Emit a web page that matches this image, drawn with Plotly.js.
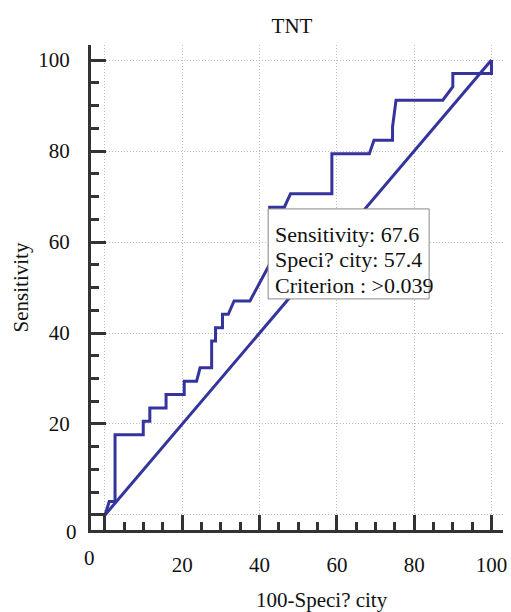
<!DOCTYPE html>
<html>
<head>
<meta charset="utf-8">
<script src="https://cdn.plot.ly/plotly-3.0.1.min.js"></script>
<style>html,body{margin:0;padding:0;background:#fff;}#chart{width:511px;height:612px;}</style>
</head>
<body>
<div id="chart"></div>
<script>
// 100-Specificity (x) and Sensitivity (y) of the ROC curve
var fpr = [0, 1.1, 2.6, 2.6, 9.9, 9.9, 11.6, 11.6, 15.8, 15.8, 20.5, 20.5, 23.7, 24.6, 27.6, 27.6, 28.6, 28.6, 30.4, 30.4, 31.9, 33.4, 37.5, 42.6, 42.6, 46.4, 48.0, 58.7, 58.7, 68.4, 69.6, 74.4, 74.4, 75.3, 87.4, 90.0, 90.0, 100, 100];
var sens = [0, 2.94, 2.94, 17.65, 17.65, 20.59, 20.59, 23.53, 23.53, 26.47, 26.47, 29.41, 29.41, 32.35, 32.35, 38.24, 38.24, 41.18, 41.18, 44.12, 44.12, 47.06, 47.06, 55.1, 67.65, 67.65, 70.59, 70.59, 79.41, 79.41, 82.35, 82.35, 85.29, 91.18, 91.18, 94.12, 97.06, 97.06, 100];
var diagX = [0, 100];
var diagY = [0, 100];
var critSpecComplement = 42.6;
var critSens = 67.6;
var infoLines = ["Sensitivity: 67.6", "Speci? city: 57.4", "Criterion : >0.039"];
var tickVals = [0, 20, 40, 60, 80, 100];
var tickText = ["", "20", "40", "60", "80", "100"];

var FONT = "Liberation Serif, Times New Roman, serif";
var LINE = "#34349c";
var AX = "#333333";

var traces = [
  {x: diagX, y: diagY, mode: "lines", line: {color: LINE, width: 3}, hoverinfo: "skip"},
  {x: fpr, y: sens, mode: "lines", line: {color: LINE, width: 3}, hoverinfo: "skip"}
];

function axis(range, standoff) {
  return {
    range: range, autorange: false,
    showline: true, linecolor: AX, linewidth: 3, mirror: false,
    ticks: "inside", ticklen: 15, tickwidth: 3, tickcolor: AX,
    tickvals: tickVals, ticktext: tickText,
    tickfont: {family: FONT, size: 21, color: "#111"},
    ticklabelstandoff: standoff,
    showgrid: true, gridcolor: "#bdbdbd", gridwidth: 1, griddash: "1px,2px",
    zeroline: false,
    minor: {dtick: 5, tick0: 0, ticks: "inside", ticklen: 8, tickwidth: 3, tickcolor: AX, showgrid: false},
    fixedrange: true
  };
}

var xa = axis([-3.62, 102.98], 14);
var ya = axis([-3.3, 103.3], 14);
ya.title = {text: "Sensitivity", font: {family: FONT, size: 21, color: "#111"}, standoff: 4};

var annotations = [];
var shifts = [-27, -52.5, -78];
for (var i = 0; i < infoLines.length; i++) {
  annotations.push({
    x: critSpecComplement, y: critSens, xref: "x", yref: "y",
    text: infoLines[i], showarrow: false, xanchor: "left", yanchor: "middle",
    xshift: 3, yshift: shifts[i], align: "left",
    font: {family: FONT, size: 22, color: "#111"}
  });
}
annotations.push({x: -0.004, y: -0.058, xref: "paper", yref: "paper", text: "0", showarrow: false,
  xanchor: "center", yanchor: "middle", font: {family: FONT, size: 21, color: "#111"}});
annotations.push({x: -0.047, y: -0.005, xref: "paper", yref: "paper", text: "0", showarrow: false,
  xanchor: "center", yanchor: "middle", font: {family: FONT, size: 21, color: "#111"}});
annotations.push({x: 0.5607, y: -0.144, xref: "paper", yref: "paper", text: "100-Speci? city", showarrow: false,
  xanchor: "center", yanchor: "middle", font: {family: FONT, size: 21, color: "#111"}});

var layout = {
  width: 511, height: 612,
  margin: {l: 91, r: 8, t: 45, b: 82},
  paper_bgcolor: "#fff", plot_bgcolor: "#fff",
  showlegend: false,
  title: {text: "TNT", font: {family: FONT, size: 21, color: "#111"},
    x: 292 / 511, xref: "container", xanchor: "center",
    y: 1 - 26 / 612, yref: "container", yanchor: "middle"},
  xaxis: xa, yaxis: ya,
  shapes: [{
    type: "rect", xref: "x", yref: "y", xsizemode: "pixel", ysizemode: "pixel",
    xanchor: critSpecComplement, yanchor: critSens,
    x0: -1.5, x1: 159.5, y0: -1.5, y1: -91.5,
    fillcolor: "#ffffff", line: {color: "#8a8a8a", width: 1}, layer: "above"
  }],
  annotations: annotations
};

Plotly.newPlot("chart", traces, layout, {staticPlot: true, displayModeBar: false});
</script>
</body>
</html>
